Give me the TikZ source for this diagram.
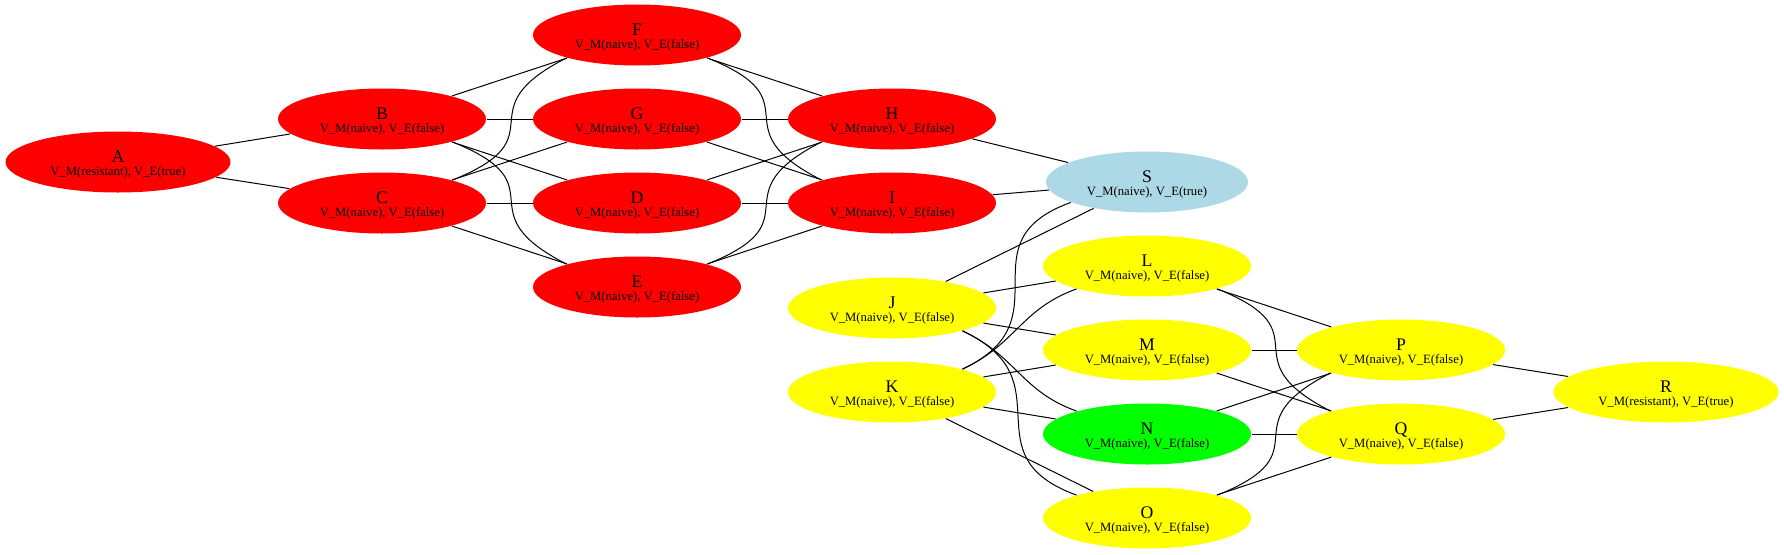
\documentclass[tikz,border=0pt]{standalone}
\usepackage{fontspec}
\setmainfont{Liberation Serif}
\usepackage{tikz}
\usetikzlibrary{shapes.geometric}
\usepackage{xcolor}
\definecolor{statered}{RGB}{255,0,0}
\definecolor{stateyellow}{RGB}{255,255,0}
\definecolor{stategreen}{RGB}{0,255,0}
\definecolor{stateblue}{RGB}{173,216,230}
\newcommand{\statelabel}[2]{{\fontsize{13.3}{14}\selectfont\rule{0pt}{13pt}#1}\\#2}

\begin{document}
\begin{tikzpicture}[x=0.75pt,y=0.75pt,
    statenode/.style={ellipse,minimum width=156pt,minimum height=45.75pt,inner sep=0pt,align=center,font=\fontsize{9.5}{10}\selectfont},
    widenode/.style={minimum width=168.75pt},
    every path/.style={line width=0.75pt}]
    % Canvas
    \fill[white] (0,0) rectangle (1784,-554);
    \useasboundingbox (0,0) rectangle (1784,-554);
    
    % Red states
    \node[statenode,widenode,fill=statered] (A) at (118,-162) {\statelabel{A}{V\_M(resistant), V\_E(true)}};
    \node[statenode,fill=statered] (B) at (382,-119) {\statelabel{B}{V\_M(naive), V\_E(false)}};
    \node[statenode,fill=statered] (C) at (382,-203) {\statelabel{C}{V\_M(naive), V\_E(false)}};
    \node[statenode,fill=statered] (F) at (637,-35) {\statelabel{F}{V\_M(naive), V\_E(false)}};
    \node[statenode,fill=statered] (G) at (637,-119) {\statelabel{G}{V\_M(naive), V\_E(false)}};
    \node[statenode,fill=statered] (D) at (637,-203) {\statelabel{D}{V\_M(naive), V\_E(false)}};
    \node[statenode,fill=statered] (E) at (637,-287) {\statelabel{E}{V\_M(naive), V\_E(false)}};
    \node[statenode,fill=statered] (H) at (892,-119) {\statelabel{H}{V\_M(naive), V\_E(false)}};
    \node[statenode,fill=statered] (I) at (892,-203) {\statelabel{I}{V\_M(naive), V\_E(false)}};
    
    % Blue state
    \node[statenode,minimum width=151.5pt,fill=stateblue] (S) at (1147,-182) {\statelabel{S}{V\_M(naive), V\_E(true)}};
    
    % Yellow and green states
    \node[statenode,fill=stateyellow] (J) at (892,-308) {\statelabel{J}{V\_M(naive), V\_E(false)}};
    \node[statenode,fill=stateyellow] (K) at (892,-392) {\statelabel{K}{V\_M(naive), V\_E(false)}};
    \node[statenode,fill=stateyellow] (L) at (1147,-266) {\statelabel{L}{V\_M(naive), V\_E(false)}};
    \node[statenode,fill=stateyellow] (M) at (1147,-350) {\statelabel{M}{V\_M(naive), V\_E(false)}};
    \node[statenode,fill=stategreen] (N) at (1147,-434) {\statelabel{N}{V\_M(naive), V\_E(false)}};
    \node[statenode,fill=stateyellow] (O) at (1147,-518) {\statelabel{O}{V\_M(naive), V\_E(false)}};
    \node[statenode,fill=stateyellow] (P) at (1401,-350) {\statelabel{P}{V\_M(naive), V\_E(false)}};
    \node[statenode,fill=stateyellow] (Q) at (1401,-434) {\statelabel{Q}{V\_M(naive), V\_E(false)}};
    \node[statenode,widenode,fill=stateyellow] (R) at (1666,-392) {\statelabel{R}{V\_M(resistant), V\_E(true)}};
    
    % Straight edges
    \draw (A) -- (B);
    \draw (A) -- (C);
    \draw (B) -- (F);
    \draw (B) -- (G);
    \draw (B) -- (D);
    \draw (C) -- (G);
    \draw (C) -- (D);
    \draw (C) -- (E);
    \draw (F) -- (H);
    \draw (G) -- (H);
    \draw (G) -- (I);
    \draw (D) -- (H);
    \draw (D) -- (I);
    \draw (E) -- (I);
    \draw (H) -- (S);
    \draw (I) -- (S);
    \draw (J) -- (S);
    \draw (J) -- (L);
    \draw (J) -- (M);
    \draw (K) -- (M);
    \draw (K) -- (N);
    \draw (K) -- (O);
    \draw (L) -- (P);
    \draw (M) -- (P);
    \draw (M) -- (Q);
    \draw (N) -- (P);
    \draw (N) -- (Q);
    \draw (O) -- (Q);
    \draw (P) -- (R);
    \draw (Q) -- (R);
    
    % Curved edges
    \draw (B.-18) to[out=-22,in=153,looseness=1.8] (E.162);
    \draw (C.18) to[out=22,in=207,looseness=1.8] (F.198);
    \draw (F.-18) to[out=-22,in=153,looseness=1.8] (I.162);
    \draw (E.18) to[out=22,in=207,looseness=1.8] (H.198);
    \draw (K.18) to[out=25,in=200,looseness=1.5] (S.195);
    \draw (K.18) to[out=25,in=200,looseness=1.1] (L.198);
    \draw (J.-18) to[out=-25,in=160,looseness=1.1] (N.162);
    \draw (J.-18) to[out=-25,in=160,looseness=1.5] (O.162);
    \draw (L.-18) to[out=-22,in=153,looseness=1.8] (Q.162);
    \draw (O.18) to[out=22,in=207,looseness=1.8] (P.198);
\end{tikzpicture}
\end{document}
